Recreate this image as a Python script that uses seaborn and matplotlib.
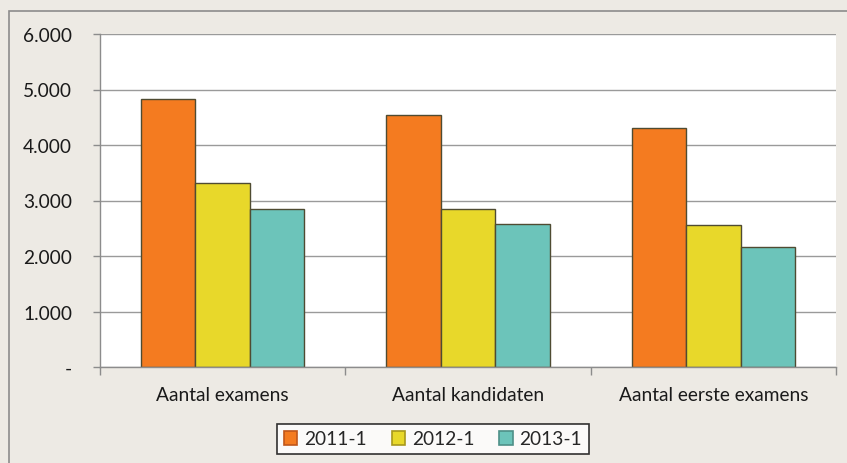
import pandas as pd
import matplotlib.pyplot as plt
import seaborn as sns
from matplotlib.patches import Rectangle

# Data
categories = ["Aantal examens", "Aantal kandidaten", "Aantal eerste examens"]
series = ["2011-1", "2012-1", "2013-1"]
v_2011 = [4830, 4540, 4310]
v_2012 = [3310, 2840, 2550]
v_2013 = [2840, 2580, 2170]
y_ticks = [0, 1000, 2000, 3000, 4000, 5000, 6000]
y_labels = ["-", "1.000", "2.000", "3.000", "4.000", "5.000", "6.000"]

colors = ["#F47B20", "#E8D82A", "#6CC4BA"]
edge_colors = ["#C0561A", "#A8981C", "#4E9088"]

df = pd.DataFrame({
    "categorie": categories * 3,
    "periode": [s for s in series for _ in categories],
    "aantal": v_2011 + v_2012 + v_2013,
})

sns.set_style("white")
plt.rcParams["font.family"] = ["Lato", "DejaVu Sans"]

bg = "#EDEAE4"
fig = plt.figure(figsize=(8.47, 4.64), dpi=100, facecolor=bg)
ax = fig.add_axes([100 / 847, 1 - 368 / 464, 736 / 847, 333 / 464])
ax.set_facecolor("white")

sns.barplot(data=df, x="categorie", y="aantal", hue="periode",
            palette=colors, width=0.665, edgecolor="#4F4B32",
            linewidth=1.0, saturation=1, ax=ax, legend=False)

ax.set_ylim(0, 6000)
ax.set_xlim(-0.5, 2.5)
ax.set_yticks(y_ticks)
ax.set_yticklabels(y_labels)
ax.grid(axis="y", color="#9A9A9A", linewidth=1.0)
ax.set_axisbelow(True)
ax.set_xlabel("")
ax.set_ylabel("")

for side in ["top", "right"]:
    ax.spines[side].set_visible(False)
for side in ["left", "bottom"]:
    ax.spines[side].set_color("#8C8C8C")
    ax.spines[side].set_linewidth(1.0)

ax.tick_params(axis="y", length=5, width=1, color="#8C8C8C", pad=15,
               labelsize=13.8, labelcolor="#1A1A1A", left=True)
ax.tick_params(axis="x", which="major", length=0, pad=14,
               labelsize=13.8, labelcolor="#1A1A1A")
ax.set_xticks([-0.5, 0.5, 1.5, 2.5], minor=True)
ax.tick_params(axis="x", which="minor", length=6, width=1,
               color="#8C8C8C", direction="out", bottom=True)

# legend
handles = [Rectangle((0, 0), 1, 1, facecolor=c, edgecolor=e, linewidth=1.2)
           for c, e in zip(colors, edge_colors)]
leg = fig.legend(handles, series, loc="center", ncol=3,
                 bbox_to_anchor=(433 / 847, 1 - 440 / 464),
                 frameon=True, fancybox=False, fontsize=13.8,
                 handlelength=0.7, handleheight=0.7, handletextpad=0.35,
                 columnspacing=1.3, borderpad=0.35)
leg.get_frame().set_edgecolor("black")
leg.get_frame().set_linewidth(1.2)
leg.get_frame().set_facecolor("white")

# outer chart border
fig.patches.append(Rectangle((9 / 847, -0.1), 1.0, 1 - 12 / 464 + 0.1,
                             transform=fig.transFigure, fill=False,
                             edgecolor="#8C8C8C", linewidth=1.2, zorder=-1))

fig.savefig("out.png", dpi=100, facecolor=bg)
